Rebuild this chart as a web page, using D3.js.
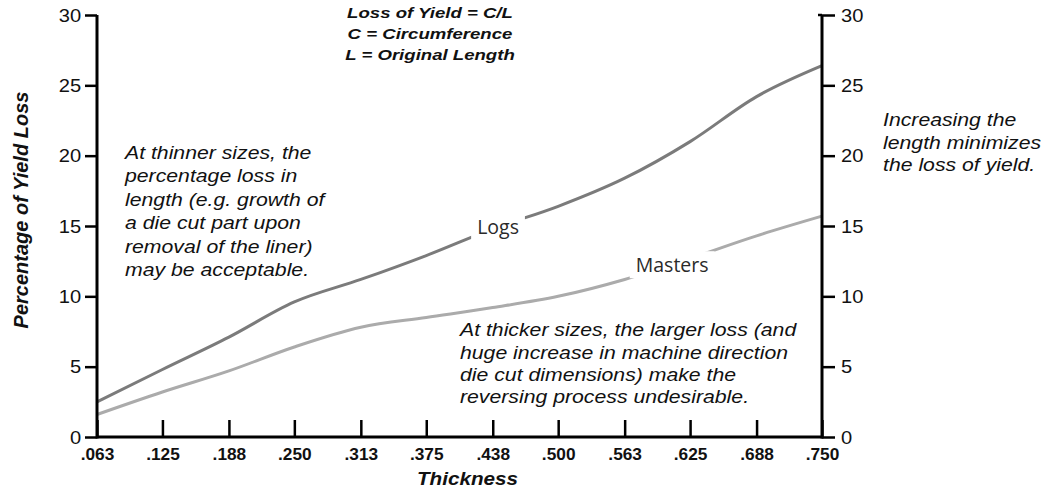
<!DOCTYPE html>
<html lang="en">
<head>
  <meta charset="utf-8">
  <title>Loss of Yield vs Thickness</title>
  <style>
    body { margin:0; background:#fff; }
    svg  { display:block; }
    text { font-family: "Liberation Sans", Arial, sans-serif; fill:#111; }
  </style>
</head>
<body>
<script src="https://d3js.org/d3.v7.min.js"></script>
<script>

// data
const thickness = [0.063, 0.125, 0.188, 0.250, 0.313, 0.375, 0.438, 0.500, 0.563, 0.625, 0.688, 0.750];
const tickLabels = [".063", ".125", ".188", ".250", ".313", ".375", ".438", ".500", ".563", ".625", ".688", ".750"];
const logs    = [2.5, 4.8, 7.1, 9.6, 11.2, 12.9, 14.8, 16.4, 18.4, 21.0, 24.2, 26.4];
const masters = [1.6, 3.2, 4.7, 6.4, 7.8, 8.5, 9.2, 10.0, 11.2, 12.7, 14.3, 15.7];
const yTicks  = [0, 5, 10, 15, 20, 25, 30];

const width = 1056, height = 492;
const margin = { top: 15, right: 234, bottom: 55, left: 97 };

const svg = d3.select("body").append("svg")
  .attr("width", width)
  .attr("height", height);

const x = d3.scaleLinear()
  .domain([0.063, 0.750])
  .range([margin.left, width - margin.right]);

const y = d3.scaleLinear()
  .domain([0, 30])
  .range([height - margin.bottom, margin.top]);

// -- lines --
const line = d3.line()
  .x(d => x(d[0]))
  .y(d => y(d[1]))
  .curve(d3.curveMonotoneX);

const series = [
  { name: "Logs",    values: logs,    color: "#7b7b7b", label: [0.443, 14.95] },
  { name: "Masters", values: masters, color: "#ababab", label: [0.608, 12.2] }
];

svg.append("g")
  .selectAll("path")
  .data(series)
  .join("path")
    .attr("d", d => line(thickness.map((t, i) => [t, d.values[i]])))
    .attr("fill", "none")
    .attr("stroke", d => d.color)
    .attr("stroke-width", 3);

// line labels sit in a gap of the line
const labels = svg.append("g")
  .selectAll("g")
  .data(series)
  .join("g")
    .attr("transform", d => `translate(${x(d.label[0])},${y(d.label[1])})`);

labels.append("rect")
  .attr("fill", "#fff");

labels.append("text")
  .attr("text-anchor", "middle")
  .attr("dy", "0.35em")
  .style("font-family", "'Open Sans', sans-serif")
  .style("font-size", "19.5px")
  .style("fill", "#2a2a2a")
  .text(d => d.name);

labels.each(function() {
  const g = d3.select(this);
  const b = g.select("text").node().getBBox();
  g.select("rect")
    .attr("x", b.x - 6)
    .attr("y", b.y)
    .attr("width", b.width + 12)
    .attr("height", b.height);
});

// -- axes --
const yAxisL = svg.append("g")
  .attr("transform", `translate(${margin.left},0)`)
  .call(d3.axisLeft(y).tickValues(yTicks).tickSize(12).tickPadding(3));

const yAxisR = svg.append("g")
  .attr("transform", `translate(${width - margin.right},0)`)
  .call(d3.axisRight(y).tickValues(yTicks).tickSize(13).tickPadding(5));

const xAxis = svg.append("g")
  .attr("transform", `translate(0,${height - margin.bottom})`)
  .call(d3.axisBottom(x).tickValues(thickness).tickSize(-17).tickPadding(12)
    .tickFormat((d, i) => tickLabels[i]));

[yAxisL, yAxisR, xAxis].forEach(a => {
  a.select(".domain").remove();
  a.attr("font-size", null);
  a.selectAll(".tick line").attr("stroke", "#000").attr("stroke-width", 2.5);
});
xAxis.selectAll(".tick text")
  .style("font-size", "16px")
  .style("font-weight", "bold")
  .style("fill", "#111")
  .attr("transform", "scale(1.08,1)");
[yAxisL, yAxisR].forEach(a => a.selectAll(".tick text")
  .style("font-size", "19px")
  .style("fill", "#111")
  .attr("transform", "scale(1.06,1)"));

// axis lines
const frame = svg.append("g")
  .attr("stroke", "#000")
  .attr("stroke-width", 3)
  .attr("fill", "none");
frame.append("line")
  .attr("x1", x(0.063)).attr("x2", x(0.063))
  .attr("y1", y(30)).attr("y2", y(0) + 1.5);
frame.append("line")
  .attr("x1", x(0.750)).attr("x2", x(0.750))
  .attr("y1", y(30)).attr("y2", y(0) + 1.5);
frame.append("line")
  .attr("x1", x(0.063)).attr("x2", x(0.750))
  .attr("y1", y(0)).attr("y2", y(0));
frame.append("line")
  .attr("x1", x(0.750) - 4).attr("x2", x(0.750))
  .attr("y1", y(30)).attr("y2", y(30))
  .attr("stroke-width", 2.5);

// axis titles
svg.append("text")
  .attr("transform", "translate(28,210) rotate(-90)")
  .attr("text-anchor", "middle")
  .style("font-size", "20px")
  .style("font-weight", "bold")
  .style("font-style", "italic")
  .text("Percentage of Yield Loss");

svg.append("g")
  .attr("transform", `translate(${(x(0.063) + x(0.750)) / 2 + 8},485) scale(1.09,1)`)
  .append("text")
  .attr("text-anchor", "middle")
  .style("font-size", "19px")
  .style("font-weight", "bold")
  .style("font-style", "italic")
  .text("Thickness");

// formula block
const formula = ["Loss of Yield = C/L", "C = Circumference", "L = Original Length"];
svg.append("g")
  .attr("transform", "translate(430,0) scale(1.2,1)")
  .selectAll("text")
  .data(formula)
  .join("text")
    .attr("x", 0)
    .attr("y", (d, i) => 18.5 + i * 21)
    .attr("text-anchor", "middle")
    .style("font-size", "15.5px")
    .style("font-weight", "bold")
    .style("font-style", "italic")
    .text(d => d);

// annotations
function note(lines, x0, y0, step) {
  svg.append("g")
    .attr("transform", `translate(${x0},0) scale(1.18,1)`)
    .selectAll("text")
    .data(lines)
    .join("text")
      .attr("x", 0)
      .attr("y", (d, i) => y0 + i * step)
      .style("font-size", "18px")
      .style("font-style", "italic")
      .text(d => d);
}

note([
  "At thinner sizes, the",
  "percentage loss in",
  "length (e.g. growth of",
  "a die cut part upon",
  "removal of the liner)",
  "may be acceptable."
], 125, 159, 23.4);

note([
  "At thicker sizes, the larger loss (and",
  "huge increase in machine direction",
  "die cut dimensions) make the",
  "reversing process undesirable."
], 460, 336.5, 22.1);

note([
  "Increasing the",
  "length minimizes",
  "the loss of yield."
], 883, 126.5, 22.5);

</script>
</body>
</html>
